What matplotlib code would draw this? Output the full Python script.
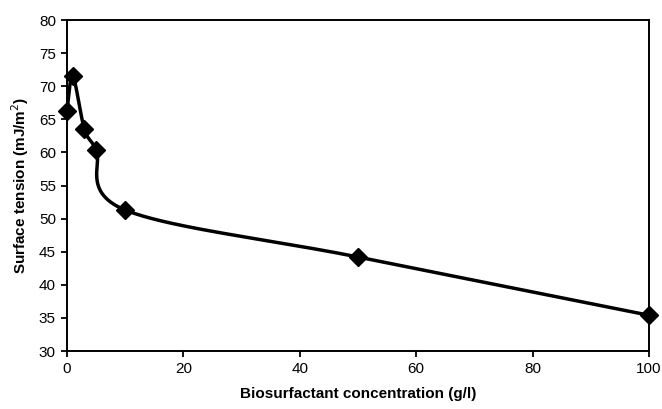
import numpy as np
import matplotlib
matplotlib.use("Agg")
import matplotlib.pyplot as plt

conc = [0, 1, 3, 5, 10, 50, 100]
tension = [66.3, 71.5, 63.5, 60.4, 51.3, 44.2, 35.4]
xticks = [0, 20, 40, 60, 80, 100]
yticks = [30, 35, 40, 45, 50, 55, 60, 65, 70, 75, 80]

plt.rcParams['font.family'] = ['Liberation Sans', 'DejaVu Sans']

fig = plt.figure(figsize=(6.62, 4.09), dpi=100)
ax = fig.add_axes([0.1012, 0.1418, 0.8792, 0.8092])
ax.set_xlim(0, 100)
ax.set_ylim(30, 80)

# Excel-like smoothed curve (cubic Bezier with Catmull-Rom control points, in display space)
fig.canvas.draw()
pts = ax.transData.transform(np.column_stack([conc, tension]))
n = len(pts)
curve = []
t = np.linspace(0, 1, 60)
for i in range(n - 1):
    p0 = pts[i - 1] if i > 0 else pts[i]
    p1 = pts[i]
    p2 = pts[i + 1]
    p3 = pts[i + 2] if i + 2 < n else pts[i + 1]
    c1 = p1 + (p2 - p0) / 6.0
    c2 = p2 - (p3 - p1) / 6.0
    seg = ((1 - t)[:, None] ** 3 * p1 + 3 * ((1 - t) ** 2 * t)[:, None] * c1
           + 3 * ((1 - t) * t ** 2)[:, None] * c2 + (t ** 3)[:, None] * p2)
    curve.append(seg)
curve = np.vstack(curve)
curve_data = ax.transData.inverted().transform(curve)
ax.plot(curve_data[:, 0], curve_data[:, 1], color='black', lw=2.5, clip_on=False, zorder=2)
ax.plot(conc, tension, linestyle='none', marker='D', color='black', markersize=9, clip_on=False, zorder=3)

ax.set_xticks(xticks)
ax.set_yticks(yticks)
ax.tick_params(direction='out', length=4, width=1.3, labelsize=11, pad=4)
for s in ax.spines.values():
    s.set_linewidth(1.4)
ax.set_xlabel('Biosurfactant concentration (g/l)', fontsize=11, fontweight='bold', labelpad=8)
ax.set_ylabel('Surface tension (mJ/m$^2$)', fontsize=11, fontweight='bold', labelpad=6)

fig.savefig('out.png', dpi=100)
